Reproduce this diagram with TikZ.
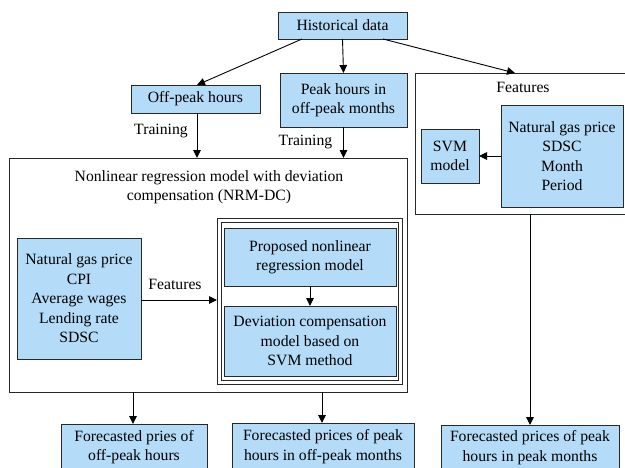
\documentclass[tikz,border=0pt]{standalone}
\usepackage{fontspec}
\setmainfont{Liberation Serif}
\usetikzlibrary{arrows.meta}
\definecolor{boxblue}{RGB}{180,219,248}
\definecolor{edge}{RGB}{40,40,40}
\begin{document}
\begin{tikzpicture}[x=1pt,y=-1pt,
  txt/.style={font=\fontsize{15.7}{19.5}\selectfont},
  bx/.style={txt, draw=edge, line width=0.9pt, fill=boxblue, inner sep=0pt, outer sep=0pt, align=center},
  frame/.style={draw=edge, line width=0.9pt, inner sep=0pt, outer sep=0pt},
  lbl/.style={txt, inner sep=0pt, align=center},
  arr/.style={-{Triangle[length=8pt,width=7.5pt]}, line width=0.9pt, draw=black}]
\useasboundingbox (0,0) rectangle (625,467);
\clip (0,0) rectangle (625,467);
% top
\node[bx, minimum width=129pt, minimum height=27pt] (hist) at (342.5,25.5) {Historical data};
\node[bx, minimum width=129pt, minimum height=28pt] (off) at (195.5,99) {Off-peak hours};
\node[bx, minimum width=127pt, minimum height=54pt] (peak) at (343.5,100) {Peak hours in\\off-peak months};
% right frame
\node[frame, minimum width=213pt, minimum height=141pt] (rbox) at (521.5,143.5) {};
\node[lbl] (rfeat) at (523,87) {Features};
\node[bx, minimum width=122pt, minimum height=102pt] (rnat) at (562,156) {Natural gas price\\SDSC\\Month\\Period};
\node[bx, minimum width=58pt, minimum height=54pt] (svm) at (450,156) {SVM\\model};
% main frame
\node[frame, minimum width=398pt, minimum height=234pt] (main) at (208,275) {};
\node[lbl] (title) at (209,187) {Nonlinear regression model with deviation\\compensation (NRM-DC)};
\node[bx, minimum width=124pt, minimum height=121pt] (lnat) at (79,298.5) {Natural gas price\\CPI\\Average wages\\Lending rate\\SDSC};
\node[frame, minimum width=185pt, minimum height=166pt] (dblo) at (309.5,301) {};
\node[frame, minimum width=177pt, minimum height=158pt] (dbli) at (309.5,301) {};
\node[bx, minimum width=172pt, minimum height=58pt] (prop) at (310,257) {Proposed nonlinear\\regression model};
\node[bx, minimum width=172pt, minimum height=70pt] (dev) at (310,341) {Deviation compensation\\model based on\\SVM method};
\node[lbl] (lfeat) at (175,284) {Features};
% outputs
\node[bx, minimum width=146pt, minimum height=46pt] (out1) at (134,447) {Forecasted pries of\\off-peak hours};
\node[bx, minimum width=182pt, minimum height=47pt] (out2) at (323,446.5) {Forecasted prices of peak\\hours in off-peak months};
\node[bx, minimum width=178pt, minimum height=45pt] (out3) at (530,447.5) {Forecasted prices of peak\\hours in peak months};
% training labels
\node[lbl] (tr1) at (161,131) {Training};
\node[lbl] (tr2) at (305.5,142) {Training};
% connectors
\coordinate (rin) at (515,73);
\draw[arr] ([xshift=-40.5pt]hist.south) -- ([xshift=1.5pt]off.north);
\draw[arr] (hist.south) -- (peak.north);
\draw[arr] ([xshift=40.5pt]hist.south) -- (rin);
\draw[arr] ([xshift=1.5pt]off.south) -- ([xshift=1.5pt]off.south |- main.north);
\draw[arr] (peak.south) -- (peak.south |- main.north);
\draw[arr] (rnat.west) -- (svm.east);
\draw[arr] ([yshift=-1.5pt]lnat.east) -- ([yshift=-1.5pt]lnat.east -| dblo.west);
\draw[arr] (prop.south) -- (dev.north);
\draw[arr] ([xshift=-1pt]out1.north |- main.south) -- ([xshift=-1pt]out1.north);
\draw[arr] ([xshift=-1pt]out2.north |- main.south) -- ([xshift=-1pt]out2.north);
\draw[arr] (out3.north |- rbox.south) -- (out3.north);
\end{tikzpicture}
\end{document}
